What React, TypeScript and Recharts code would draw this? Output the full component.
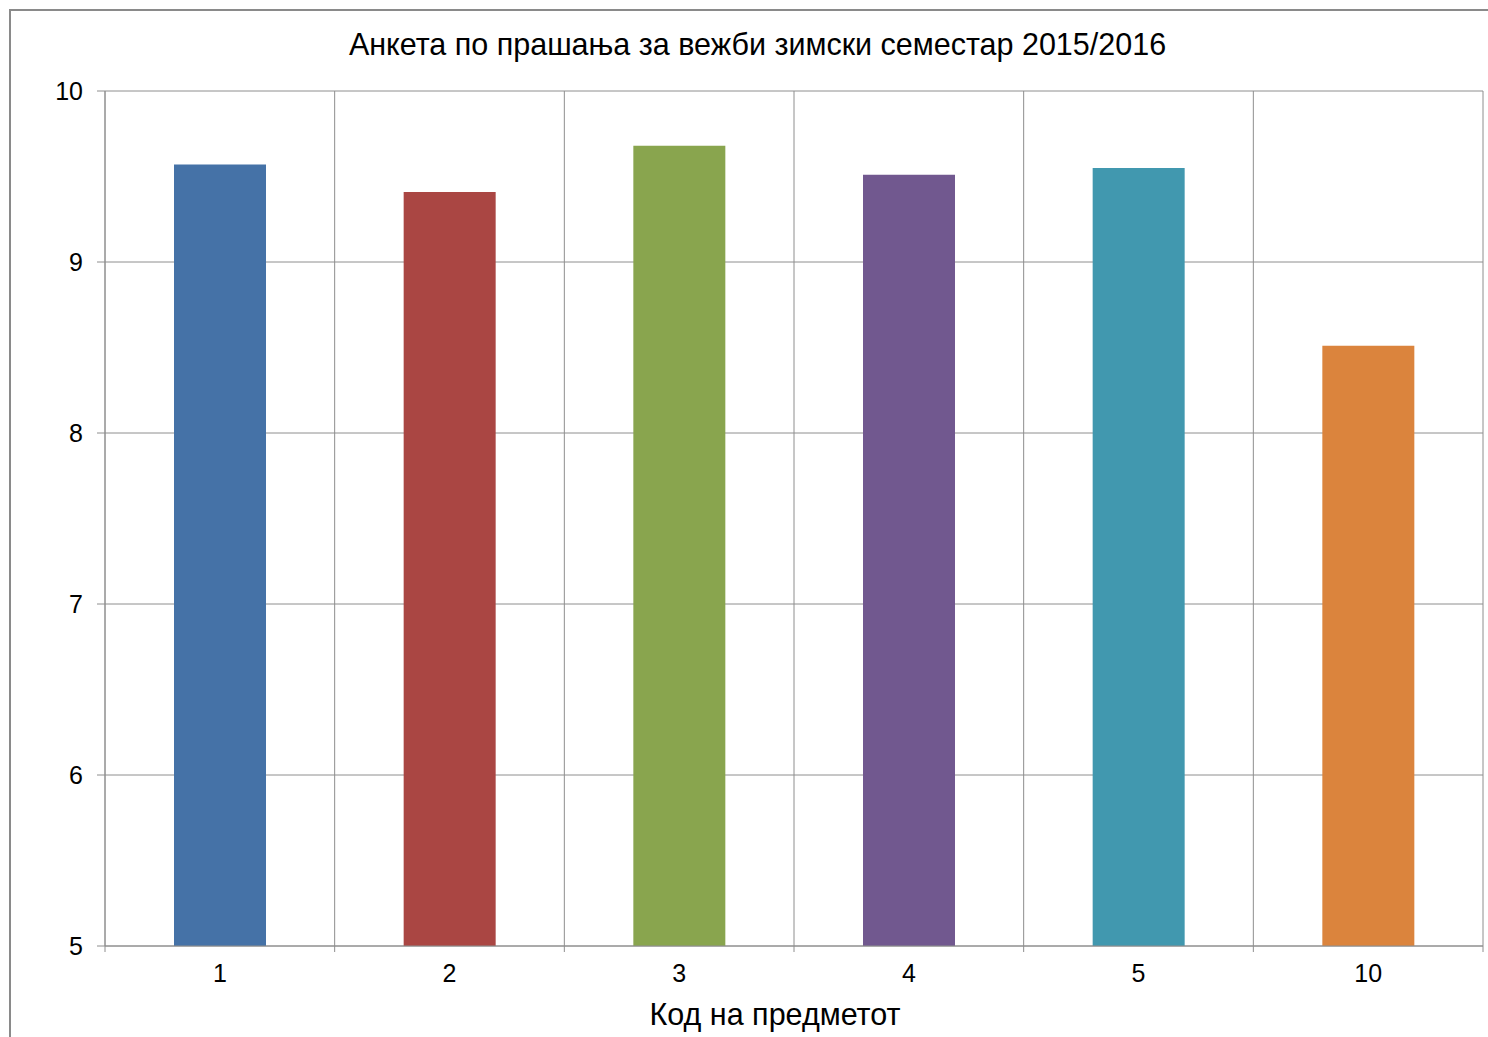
import React from 'react';
import { BarChart, Bar, XAxis, YAxis, CartesianGrid, Cell } from 'recharts';

const codes = ['1', '2', '3', '4', '5', '10'];
const scores = [9.57, 9.41, 9.68, 9.51, 9.55, 8.51];
const barColors = ['#4572A7', '#AA4643', '#89A54E', '#71588F', '#4198AF', '#DB843D'];
const yTicks = [5, 6, 7, 8, 9, 10];

const TITLE = 'Анкета по прашања за вежби зимски семестар 2015/2016';
const X_TITLE = 'Код на предметот';

const GRID = '#8e8e8e';
const FONT = '"Liberation Sans", Arial, sans-serif';
const TICK_GAP = 18;

// vertical grid lines sit between categories, like Excel
const boundaryLines = ({ xAxis, offset }: any) => {
  const s = xAxis && xAxis.scale;
  if (typeof s === 'function' && typeof s.bandwidth === 'function') {
    const pts = codes.map((c) => s(c));
    pts.push(s(codes[codes.length - 1]) + s.bandwidth());
    return pts;
  }
  const n = codes.length;
  const pts: number[] = [];
  for (let i = 0; i <= n; i++) pts.push(offset.left + (i * offset.width) / n);
  return pts;
};

function CodeTick(props: any) {
  const { x, y, payload, index, visibleTicksCount } = props;
  const half = payload.offset || 0;
  const axisY = y - TICK_GAP;
  const last = index === visibleTicksCount - 1;
  return (
    <g>
      <line x1={x - half} x2={x - half} y1={axisY} y2={axisY + 6} stroke={GRID} />
      {last && <line x1={x + half} x2={x + half} y1={axisY} y2={axisY + 6} stroke={GRID} />}
      <text x={x} y={y} dy="0.71em" textAnchor="middle" fill="#000" fontSize={25} fontFamily={FONT}>
        {payload.value}
      </text>
    </g>
  );
}

export default function App() {
  const data = codes.map((c, i) => ({ code: c, score: scores[i] }));

  return (
    <div style={{ position: 'absolute', left: 0, top: 0, width: 1488, height: 1037, background: '#fff', overflow: 'hidden', fontFamily: FONT }}>
      <div
        style={{
          position: 'absolute',
          left: 9,
          top: 9,
          width: 1500,
          height: 1050,
          borderLeft: '2px solid #8a8a8a',
          borderTop: '2px solid #8a8a8a',
        }}
      />
      <div
        style={{
          position: 'absolute',
          left: 0,
          top: 26,
          width: 1515,
          textAlign: 'center',
          fontSize: 30.5,
          lineHeight: '36px',
          color: '#000',
        }}
      >
        {TITLE}
      </div>
      <div style={{ position: 'absolute', left: 0, top: 0 }}>
        <BarChart
          width={1488}
          height={1037}
          data={data}
          margin={{ top: 91, right: 5, bottom: 0, left: 45 }}
          barSize={92}
        >
          <CartesianGrid stroke={GRID} strokeWidth={1} verticalCoordinatesGenerator={boundaryLines} />
          <XAxis
            dataKey="code"
            height={91}
            axisLine={{ stroke: GRID }}
            tickLine={false}
            tickSize={0}
            tickMargin={TICK_GAP}
            tick={<CodeTick />}
            label={{
              value: X_TITLE,
              position: 'insideBottom',
              offset: 12,
              dx: -19,
              fill: '#000',
              fontSize: 30.5,
              fontFamily: FONT,
            }}
          />
          <YAxis
            domain={[5, 10]}
            ticks={yTicks}
            width={60}
            allowDataOverflow
            tickSize={8}
            tickMargin={14}
            axisLine={{ stroke: GRID }}
            tickLine={{ stroke: GRID }}
            tick={{ fill: '#000', fontSize: 25, fontFamily: FONT }}
          />
          <Bar dataKey="score" isAnimationActive={false}>
            {data.map((d, i) => (
              <Cell key={`c-${d.code}`} fill={barColors[i]} />
            ))}
          </Bar>
        </BarChart>
      </div>
    </div>
  );
}
